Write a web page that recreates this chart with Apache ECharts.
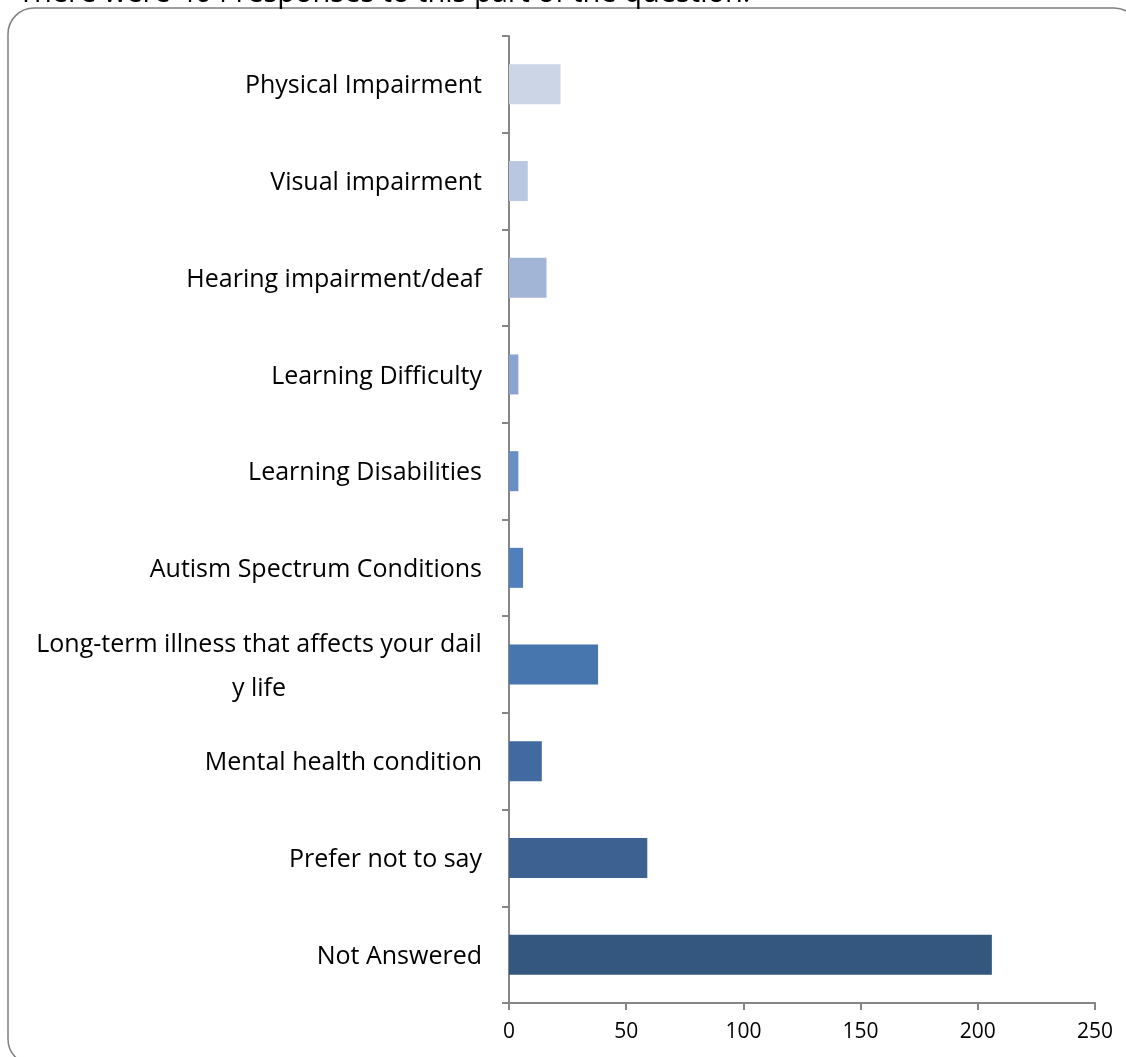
<!DOCTYPE html>
<html>
<head>
<meta charset="utf-8">
<script src="https://cdn.jsdelivr.net/npm/echarts@6/dist/echarts.min.js"></script>
<style>
html,body{margin:0;padding:0;background:#fff;}
#c{width:1126px;height:1057px;}
</style>
</head>
<body>
<div id="c"></div>
<script>
const categories = [
  "Physical Impairment",
  "Visual impairment",
  "Hearing impairment/deaf",
  "Learning Difficulty",
  "Learning Disabilities",
  "Autism Spectrum Conditions",
  "Long-term illness that affects your daily life",
  "Mental health condition",
  "Prefer not to say",
  "Not Answered"
];
const values = [22, 8, 16, 4, 4, 6, 38, 14, 59, 206];
const barColors = ["#CCD5E6", "#BAC7E0", "#A3B5D6", "#8AA4CF", "#678FC4", "#4F80BC", "#4775AD", "#416BA0", "#3D6190", "#33577F"];
const xTicks = [0, 50, 100, 150, 200, 250];
const titleText = "There were 464 responses to this part of the question.";
const longLine1 = "Long-term illness that affects your dail";
const longLine2 = "y life";

const labelFont = '"Open Sans", Lato, sans-serif';
const labelSize = 25;
const cv = document.createElement('canvas').getContext('2d');
cv.font = labelSize + 'px "Open Sans"';
const line1W = Math.ceil(cv.measureText(longLine1).width);

const chart = echarts.init(document.getElementById('c'));
chart.setOption({
  animation: false,
  backgroundColor: '#fff',
  graphic: [
    {
      type: 'rect',
      shape: { x: 8, y: 8, width: 1132, height: 1057, r: 26 },
      style: { fill: 'none', stroke: '#808080', lineWidth: 1.5 },
      silent: true,
      z: -1
    },
    {
      type: 'text',
      left: 18,
      top: -21,
      style: {
        text: titleText,
        font: '29px "Open Sans", sans-serif',
        fill: '#000'
      }
    }
  ],
  grid: { left: 509, right: 31, top: 36, bottom: 54, containLabel: false },
  xAxis: {
    type: 'value',
    min: xTicks[0],
    max: xTicks[xTicks.length - 1],
    interval: 50,
    axisLine: { show: true, lineStyle: { color: '#868686', width: 2 } },
    axisTick: { show: true, length: 7, lineStyle: { color: '#868686', width: 2 } },
    splitLine: { show: false },
    axisLabel: { color: '#000', fontSize: 21, fontFamily: labelFont, margin: 19 }
  },
  yAxis: {
    type: 'category',
    inverse: true,
    data: categories,
    axisLine: { show: true, lineStyle: { color: '#868686', width: 2 } },
    axisTick: { show: true, length: 7, lineStyle: { color: '#868686', width: 2 } },
    splitLine: { show: false },
    axisLabel: {
      color: '#000',
      fontSize: labelSize,
      fontFamily: labelFont,
      margin: 27,
      padding: [4, 0, 0, 0],
      formatter: function (v) {
        if (v === categories[6]) {
          return '{a|' + longLine1 + '}\n{a|' + longLine2 + '}';
        }
        return v;
      },
      rich: {
        a: { width: line1W, align: 'center', fontSize: labelSize, lineHeight: 44, fontFamily: labelFont, color: '#000' }
      }
    }
  },
  series: [{
    type: 'bar',
    barWidth: 40,
    data: values.map((v, i) => ({ value: v, itemStyle: { color: barColors[i] } }))
  }]
});
</script>
</body>
</html>
